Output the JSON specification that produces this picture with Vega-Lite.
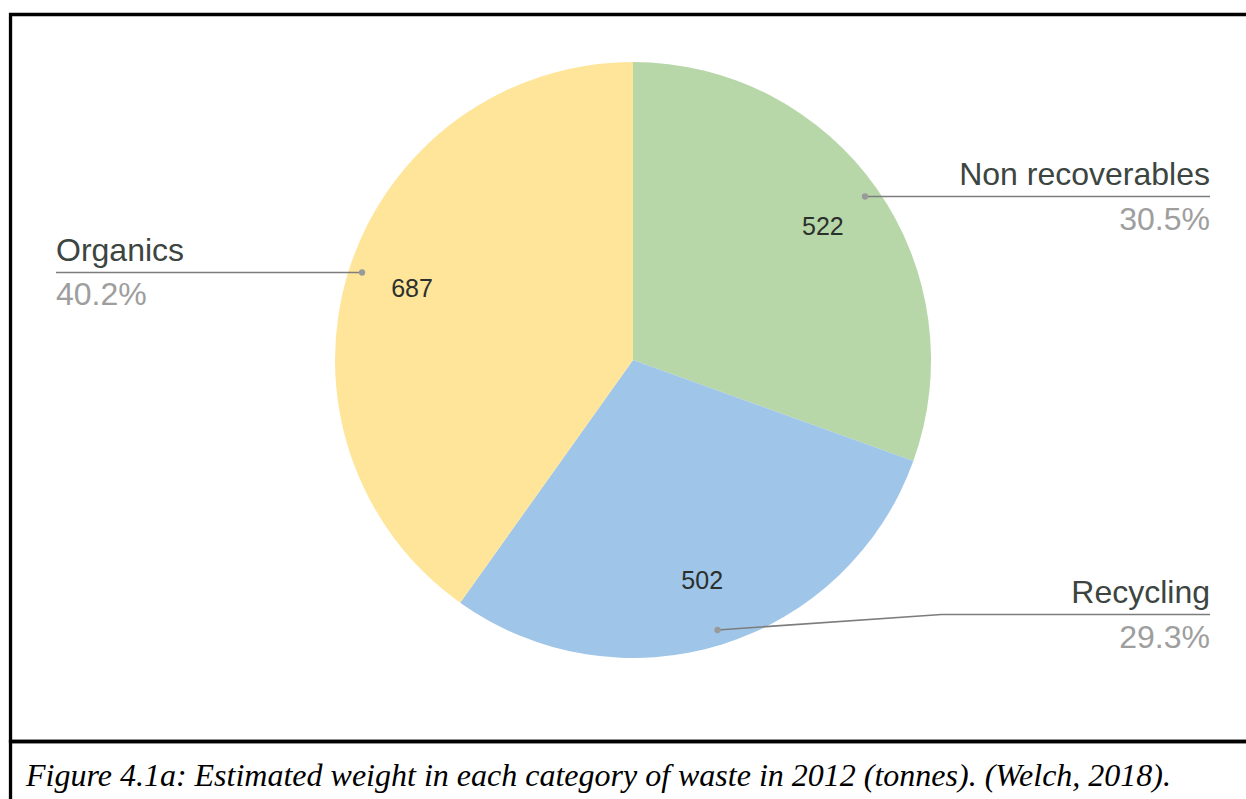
{
  "$schema": "https://vega.github.io/schema/vega-lite/v6.json",
  "width": 1246,
  "height": 799,
  "autosize": "none",
  "padding": 0,
  "background": "white",
  "config": {"view": {"stroke": null}},
  "datasets": {
    "waste": [
      {"category": "Non recoverables", "tonnes": 522, "rank": 1},
      {"category": "Recycling", "tonnes": 502, "rank": 2},
      {"category": "Organics", "tonnes": 687, "rank": 3}
    ],
    "callouts": [
      {"category": "Non recoverables", "side": "right", "lx": 193.62, "nameY": 58.56, "pctY": 43.62},
      {"category": "Recycling", "side": "right", "lx": 193.62, "nameY": -81.71, "pctY": -96.64},
      {"category": "Organics", "side": "left", "lx": -193.62, "nameY": 33.39, "pctY": 18.46}
    ],
    "leaders": [
      {"category": "Non recoverables", "step": 0, "lx": 77.85, "ly": 54.87},
      {"category": "Non recoverables", "step": 1, "lx": 193.62, "ly": 54.87},
      {"category": "Recycling", "step": 0, "lx": 28.36, "ly": -90.6},
      {"category": "Recycling", "step": 1, "lx": 103.52, "ly": -85.4},
      {"category": "Recycling", "step": 2, "lx": 193.62, "ly": -85.4},
      {"category": "Organics", "step": 0, "lx": -90.94, "ly": 29.36},
      {"category": "Organics", "step": 1, "lx": -193.62, "ly": 29.36}
    ],
    "caption": [
      {"text": "Figure 4.1a: Estimated weight in each category of waste in 2012 (tonnes). (Welch, 2018)."}
    ],
    "frame": [{"part": "chart"}]
  },
  "layer": [
    {
      "data": {"name": "frame"},
      "mark": {"type": "rect", "fill": null, "stroke": "black", "strokeWidth": 3.3},
      "encoding": {
        "x": {"datum": -208.89, "type": "quantitative", "scale": {"domain": [-212.42, 205.7], "nice": false, "zero": false}, "axis": null},
        "x2": {"datum": 214},
        "y": {"datum": 115.94, "type": "quantitative", "scale": {"domain": [-147.32, 120.81], "nice": false, "zero": false}, "axis": null},
        "y2": {"datum": -128.02}
      }
    },
    {
      "data": {"name": "frame"},
      "mark": {"type": "rect", "fill": null, "stroke": "black", "strokeWidth": 3.3},
      "encoding": {
        "x": {"datum": -208.89, "type": "quantitative", "scale": {"domain": [-212.42, 205.7], "nice": false, "zero": false}, "axis": null},
        "x2": {"datum": 214},
        "y": {"datum": -128.02, "type": "quantitative", "scale": {"domain": [-147.32, 120.81], "nice": false, "zero": false}, "axis": null},
        "y2": {"datum": -160}
      }
    },
    {
      "data": {"name": "waste"},
      "mark": {"type": "arc", "radius": 298},
      "encoding": {
        "x": {"datum": 0, "type": "quantitative", "scale": {"domain": [-212.42, 205.7], "nice": false, "zero": false}, "axis": null},
        "y": {"datum": 0, "type": "quantitative", "scale": {"domain": [-147.32, 120.81], "nice": false, "zero": false}, "axis": null},
        "theta": {"field": "tonnes", "type": "quantitative", "stack": true},
        "order": {"field": "rank", "type": "quantitative"},
        "color": {
          "field": "category",
          "type": "nominal",
          "scale": {"domain": ["Non recoverables", "Recycling", "Organics"], "range": ["#b7d7a8", "#9fc5e8", "#ffe599"]},
          "legend": null
        }
      }
    },
    {
      "data": {"name": "waste"},
      "mark": {"type": "text", "radius": 232, "font": "Liberation Sans", "fontSize": 25, "color": "#2b302d", "align": "center", "baseline": "middle"},
      "encoding": {
        "x": {"datum": 0, "type": "quantitative", "scale": {"domain": [-212.42, 205.7], "nice": false, "zero": false}, "axis": null},
        "y": {"datum": 0, "type": "quantitative", "scale": {"domain": [-147.32, 120.81], "nice": false, "zero": false}, "axis": null},
        "theta": {"field": "tonnes", "type": "quantitative", "stack": true},
        "order": {"field": "rank", "type": "quantitative"},
        "detail": {"field": "category", "type": "nominal"},
        "text": {"field": "tonnes", "type": "quantitative", "format": "d"}
      }
    },
    {
      "data": {"name": "leaders"},
      "mark": {"type": "line", "color": "#7d7d7d", "strokeWidth": 1.6},
      "encoding": {
        "x": {"field": "lx", "type": "quantitative", "scale": {"domain": [-212.42, 205.7], "nice": false, "zero": false}, "axis": null},
        "y": {"field": "ly", "type": "quantitative", "scale": {"domain": [-147.32, 120.81], "nice": false, "zero": false}, "axis": null},
        "detail": {"field": "category", "type": "nominal"},
        "order": {"field": "step", "type": "quantitative"}
      }
    },
    {
      "data": {"name": "leaders"},
      "transform": [{"filter": "datum.step == 0"}],
      "mark": {"type": "point", "filled": true, "size": 40, "color": "#9a9a9a", "opacity": 1},
      "encoding": {
        "x": {"field": "lx", "type": "quantitative", "scale": {"domain": [-212.42, 205.7], "nice": false, "zero": false}, "axis": null},
        "y": {"field": "ly", "type": "quantitative", "scale": {"domain": [-147.32, 120.81], "nice": false, "zero": false}, "axis": null}
      }
    },
    {
      "data": {"name": "waste"},
      "transform": [
        {"lookup": "category", "from": {"data": {"name": "callouts"}, "key": "category", "fields": ["side", "lx", "nameY", "pctY"]}},
        {"filter": "datum.side == 'right'"}
      ],
      "mark": {"type": "text", "font": "Liberation Sans", "fontSize": 32, "color": "#3c4540", "align": "right", "baseline": "alphabetic"},
      "encoding": {
        "x": {"field": "lx", "type": "quantitative", "scale": {"domain": [-212.42, 205.7], "nice": false, "zero": false}, "axis": null},
        "y": {"field": "nameY", "type": "quantitative", "scale": {"domain": [-147.32, 120.81], "nice": false, "zero": false}, "axis": null},
        "text": {"field": "category", "type": "nominal"}
      }
    },
    {
      "data": {"name": "waste"},
      "transform": [
        {"lookup": "category", "from": {"data": {"name": "callouts"}, "key": "category", "fields": ["side", "lx", "nameY", "pctY"]}},
        {"filter": "datum.side == 'left'"}
      ],
      "mark": {"type": "text", "font": "Liberation Sans", "fontSize": 32, "color": "#3c4540", "align": "left", "baseline": "alphabetic"},
      "encoding": {
        "x": {"field": "lx", "type": "quantitative", "scale": {"domain": [-212.42, 205.7], "nice": false, "zero": false}, "axis": null},
        "y": {"field": "nameY", "type": "quantitative", "scale": {"domain": [-147.32, 120.81], "nice": false, "zero": false}, "axis": null},
        "text": {"field": "category", "type": "nominal"}
      }
    },
    {
      "data": {"name": "waste"},
      "transform": [
        {"joinaggregate": [{"op": "sum", "field": "tonnes", "as": "total"}]},
        {"calculate": "datum.tonnes / datum.total", "as": "share"},
        {"lookup": "category", "from": {"data": {"name": "callouts"}, "key": "category", "fields": ["side", "lx", "nameY", "pctY"]}},
        {"filter": "datum.side == 'right'"}
      ],
      "mark": {"type": "text", "font": "Liberation Sans", "fontSize": 32, "color": "#9e9e9e", "align": "right", "baseline": "alphabetic"},
      "encoding": {
        "x": {"field": "lx", "type": "quantitative", "scale": {"domain": [-212.42, 205.7], "nice": false, "zero": false}, "axis": null},
        "y": {"field": "pctY", "type": "quantitative", "scale": {"domain": [-147.32, 120.81], "nice": false, "zero": false}, "axis": null},
        "text": {"field": "share", "type": "quantitative", "format": ".1%"}
      }
    },
    {
      "data": {"name": "waste"},
      "transform": [
        {"joinaggregate": [{"op": "sum", "field": "tonnes", "as": "total"}]},
        {"calculate": "datum.tonnes / datum.total", "as": "share"},
        {"lookup": "category", "from": {"data": {"name": "callouts"}, "key": "category", "fields": ["side", "lx", "nameY", "pctY"]}},
        {"filter": "datum.side == 'left'"}
      ],
      "mark": {"type": "text", "font": "Liberation Sans", "fontSize": 32, "color": "#9e9e9e", "align": "left", "baseline": "alphabetic"},
      "encoding": {
        "x": {"field": "lx", "type": "quantitative", "scale": {"domain": [-212.42, 205.7], "nice": false, "zero": false}, "axis": null},
        "y": {"field": "pctY", "type": "quantitative", "scale": {"domain": [-147.32, 120.81], "nice": false, "zero": false}, "axis": null},
        "text": {"field": "share", "type": "quantitative", "format": ".1%"}
      }
    },
    {
      "data": {"name": "caption"},
      "mark": {"type": "text", "font": "Liberation Serif", "fontStyle": "italic", "fontSize": 32, "color": "black", "align": "left", "baseline": "alphabetic"},
      "encoding": {
        "x": {"datum": -203.69, "type": "quantitative", "scale": {"domain": [-212.42, 205.7], "nice": false, "zero": false}, "axis": null},
        "y": {"datum": -143.12, "type": "quantitative", "scale": {"domain": [-147.32, 120.81], "nice": false, "zero": false}, "axis": null},
        "text": {"field": "text", "type": "nominal"}
      }
    }
  ]
}
